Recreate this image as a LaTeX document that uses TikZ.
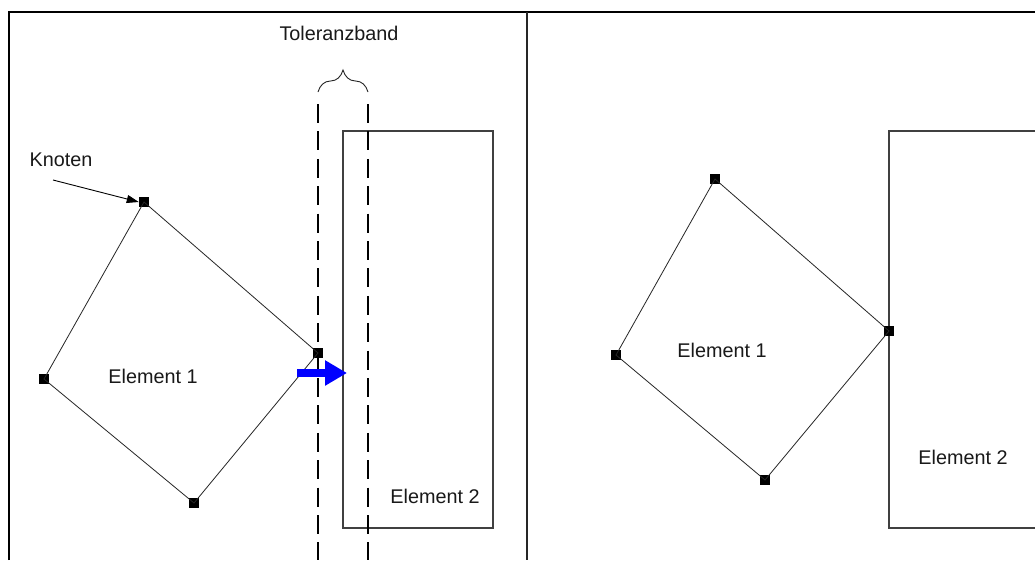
\documentclass[tikz,border=0pt]{standalone}
\usepackage{fontspec}
\setmainfont{Liberation Sans}
\usetikzlibrary{arrows.meta,decorations.pathreplacing}
\begin{document}
\begin{tikzpicture}[x=1pt,y=-1pt,
  frameline/.style={line width=2.2pt,black},
  divider/.style={line width=2pt,black!85},
  elembox/.style={line width=1.3pt,black!75},
  edge/.style={line width=0.8pt,black!85},
  knot/.style={fill=black,minimum size=10.5pt,inner sep=0pt,outer sep=0pt},
  label/.style={font=\fontsize{19.8}{22}\selectfont,text=black!90,inner sep=0pt},
  tolline/.style={line width=2.2pt,black,dash pattern=on 19pt off 8.4pt},
  pusharrow/.style={line width=8pt,blue,-{Triangle[length=22pt,width=24pt]}},
  pointer/.style={line width=0.9pt,black,-{Triangle[length=12pt,width=8pt]}},
  bracestyle/.style={line width=0.9pt,black!85,decorate,decoration={brace,amplitude=22pt,aspect=0.5}}]
\useasboundingbox (0,0) rectangle (1035,560);
\fill[white] (0,0) rectangle (1035,560);

% outer frame and divider
\draw[frameline] (9,560) -- (9,12) -- (1035,12);
\draw[divider] (527,12) -- (527,560);

% ---- left panel: before contact ----
\draw[elembox] (343,131) rectangle (493,528);
\node[label] (e2a) at (435,496) {Element 2};

% tolerance band
\draw[tolline] (318,104) -- (318,560);
\draw[tolline] (368,104) -- (368,560);
\draw[bracestyle] (318,92) -- (368,92);
\node[label] (tol) at (339,33) {Toleranzband};

% element 1 with its nodes
\node[knot] (a1) at (144,202) {};
\node[knot] (a2) at (318,353) {};
\node[knot] (a3) at (194,503) {};
\node[knot] (a4) at (44,379) {};
\draw[edge] (a1.center) -- (a2.center) -- (a3.center) -- (a4.center) -- cycle;
\node[label] (e1a) at (153,376) {Element 1};

% node label with pointer
\node[label] (kn) at (61,160) {Knoten};
\coordinate (knstart) at (53,180);
\draw[pointer] (knstart) -- (a1.west);

% push direction
\coordinate (pushA) at (297,373);
\coordinate (pushB) at (347,373);
\draw[pusharrow] (pushA) -- (pushB);

% ---- right panel: after contact ----
\draw[elembox] (1036,131) -- (889,131) -- (889,528) -- (1036,528);
\node[label] (e2b) at (963,457) {Element 2};

\node[knot] (b1) at (715,179) {};
\node[knot] (b2) at (889,331) {};
\node[knot] (b3) at (765,480) {};
\node[knot] (b4) at (616,355) {};
\draw[edge] (b1.center) -- (b2.center) -- (b3.center) -- (b4.center) -- cycle;
\node[label] (e1b) at (722,350) {Element 1};
\end{tikzpicture}
\end{document}
